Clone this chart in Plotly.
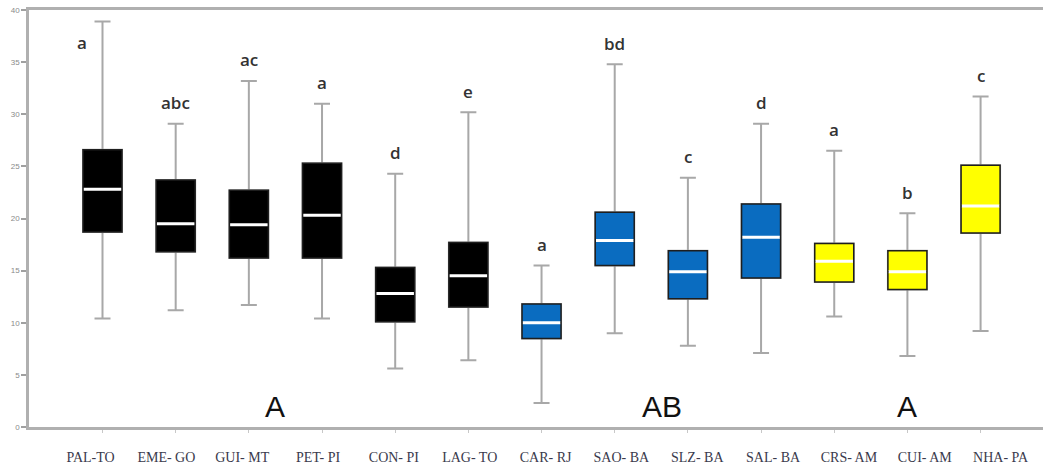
import plotly.graph_objects as go

# Sampling sites, in plotting order
sites = ["PAL-TO", "EME- GO", "GUI- MT", "PET- PI", "CON- PI", "LAG- TO", "CAR- RJ",
         "SAO- BA", "SLZ- BA", "SAL- BA", "CRS- AM", "CUI- AM", "NHA- PA"]

# Five-number summaries per site
lower = [10.4, 11.2, 11.7, 10.4, 5.6, 6.4, 2.3, 9.0, 7.8, 7.1, 10.6, 6.8, 9.2]
q1 = [18.7, 16.8, 16.2, 16.2, 10.1, 11.5, 8.5, 15.5, 12.3, 14.3, 13.9, 13.2, 18.6]
median = [22.8, 19.5, 19.4, 20.3, 12.8, 14.5, 10.0, 17.9, 14.9, 18.2, 15.9, 14.9, 21.2]
q3 = [26.6, 23.7, 22.7, 25.3, 15.3, 17.7, 11.8, 20.6, 16.9, 21.4, 17.6, 16.9, 25.1]
upper = [38.9, 29.1, 33.2, 31.0, 24.3, 30.2, 15.5, 34.8, 23.9, 29.1, 26.5, 20.5, 31.7]

# Post-hoc letters above each site
letters = ["a", "abc", "ac", "a", "d", "e", "a", "bd", "c", "d", "a", "b", "c"]

# Site groups (colour) and group labels
group_of = [0, 0, 0, 0, 0, 0, 1, 1, 1, 1, 2, 2, 2]
group_colors = ["#000000", "#0a6cc0", "#ffff00"]
group_labels = ["A", "AB", "A"]

BOX_W = 0.533
fig = go.Figure()

# Whiskers (gray), drawn under the box bodies
fig.add_trace(go.Box(
    x=sites, q1=q1, median=median, q3=q3, lowerfence=lower, upperfence=upper,
    line=dict(color="#a8a8a8", width=2), fillcolor="rgba(0,0,0,0)",
    width=BOX_W, whiskerwidth=0.41, boxpoints=False, hoverinfo="skip",
    showlegend=False,
))

# Box bodies per group colour
for g, col in enumerate(group_colors):
    idx = [i for i in range(len(sites)) if group_of[i] == g]
    fig.add_trace(go.Box(
        x=[sites[i] for i in idx],
        q1=[q1[i] for i in idx], median=[median[i] for i in idx],
        q3=[q3[i] for i in idx],
        lowerfence=[q1[i] for i in idx], upperfence=[q3[i] for i in idx],
        line=dict(color="#1e1e1e", width=1.5), fillcolor=col,
        width=BOX_W, whiskerwidth=0, boxpoints=False, hoverinfo="skip",
        showlegend=False,
    ))

# White median bars: a flat box collapsed onto each median
fig.add_trace(go.Box(
    x=sites, q1=median, median=median, q3=median,
    lowerfence=median, upperfence=median,
    line=dict(color="white", width=3), fillcolor="rgba(0,0,0,0)",
    width=BOX_W * 0.96, whiskerwidth=0, boxpoints=False, hoverinfo="skip",
    showlegend=False,
))

# Carrier trace for the label axis
fig.add_trace(go.Scatter(
    x=list(range(len(sites))), y=[None] * len(sites), xaxis="x2",
    mode="markers", hoverinfo="skip", showlegend=False,
))

# Significance letters
shift = {0: (-21, -21)}
for i, lt in enumerate(letters):
    dx, dy = shift.get(i, (0, 21))
    fig.add_annotation(
        x=sites[i], y=upper[i], text=lt, showarrow=False,
        xshift=dx, yshift=dy, yanchor="middle",
        font=dict(family="Open Sans", size=17, color="#333333", weight=600),
    )

# Group letters along the bottom
group_pos = []
for g in range(len(group_labels)):
    members = [i for i in range(len(sites)) if group_of[i] == g]
    group_pos.append(sum(members) / len(members))
group_nudge = [-0.14, 0.14, 0.0]
for g, lab in enumerate(group_labels):
    fig.add_annotation(
        x=group_pos[g] + group_nudge[g], y=2.0, text=lab, showarrow=False,
        yanchor="middle",
        font=dict(family="Liberation Sans", size=30, color="#111111"),
    )

fig.update_layout(
    width=1043, height=468,
    margin=dict(l=29, r=0, t=10, b=41),
    paper_bgcolor="white", plot_bgcolor="white",
    boxmode="overlay",
    xaxis=dict(
        type="category", categoryorder="array", categoryarray=sites,
        range=[-1.0045, 12.853], showticklabels=False,
        showline=True, mirror=True, linecolor="#b0b0b0", linewidth=2.5,
        ticks="outside", ticklen=3, tickcolor="#c8c8c8", showgrid=False,
        zeroline=False,
    ),
    xaxis2=dict(
        overlaying="x", anchor="y", side="bottom",
        range=[-0.811, 12.559], tickmode="array",
        tickvals=list(range(len(sites))), ticktext=sites,
        showline=False, showgrid=False, zeroline=False, ticks="",
        ticklabelstandoff=20,
        tickfont=dict(family="Liberation Serif", size=14, color="#3a3a4c"),
    ),
    yaxis=dict(
        range=[0, 40], dtick=5, showline=True, linecolor="#b0b0b0",
        linewidth=2.5, ticks="outside", ticklen=5, tickcolor="#a0a0a0",
        tickwidth=1.5, showgrid=False, zeroline=False,
        tickfont=dict(family="Liberation Sans", size=8, color="#8a8a8a"),
    ),
)

fig.write_html("out.html")
